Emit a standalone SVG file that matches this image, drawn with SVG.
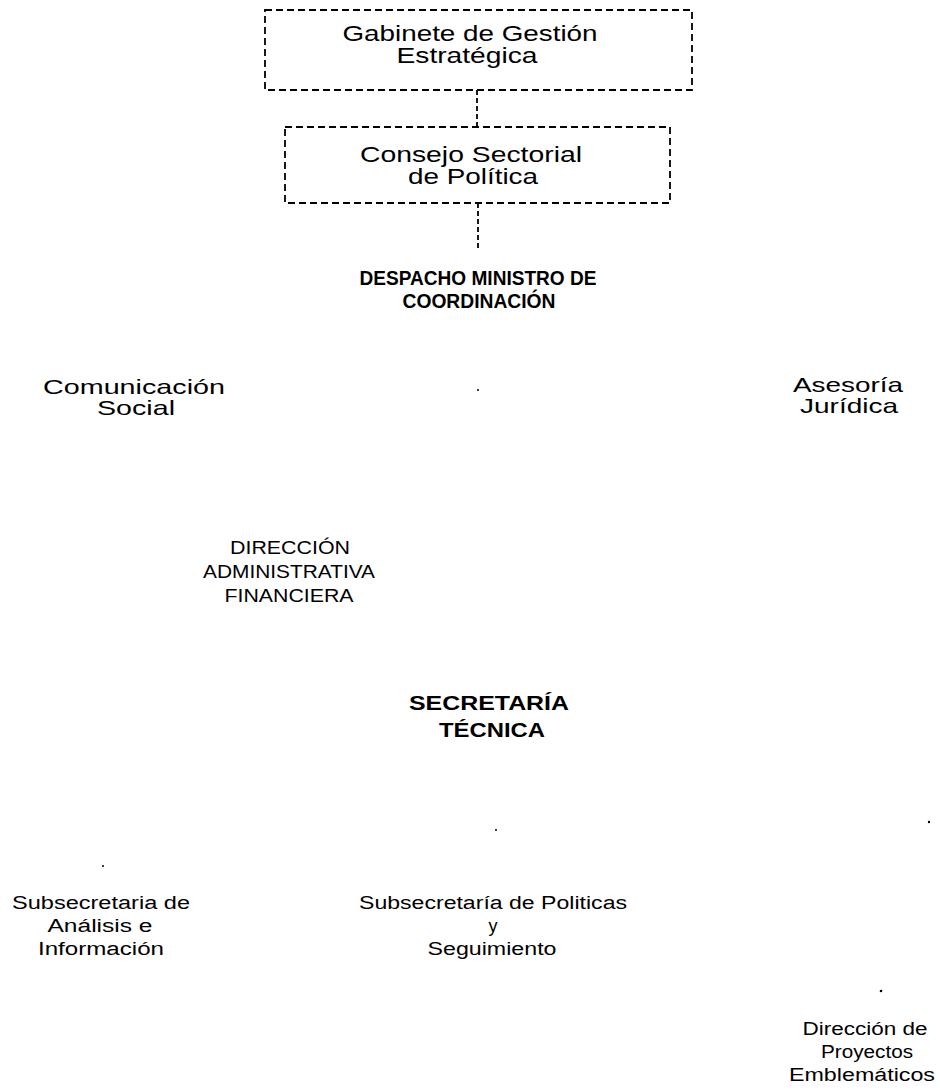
<svg xmlns="http://www.w3.org/2000/svg" width="940" height="1090" viewBox="0 0 940 1090">
<style>
.box{fill:none;stroke:#000;stroke-width:1.8;stroke-dasharray:7,4}
.con{fill:none;stroke:#000;stroke-width:1.8;stroke-dasharray:5,3}
text{font-family:"Liberation Sans",Arial,sans-serif;fill:#000;text-anchor:middle}
.big{font-size:22px}
.mid{font-size:21px}
.hb{font-size:20px;font-weight:bold}
.sm{font-size:18px}
.sm2{font-size:18px}
.dot{fill:#000}
</style>
<rect width="940" height="1090" fill="#fff"/>
<g id="connectors">
<line class="con" x1="477" y1="90" x2="477" y2="127"/>
<line class="con" x1="478" y1="203" x2="478" y2="248"/>
</g>
<g id="gabinete">
<rect class="box" x="265" y="10" width="427" height="80"/>
<text class="big" x="470" y="41" textLength="255" lengthAdjust="spacingAndGlyphs">Gabinete de Gestión</text>
<text class="big" x="467" y="63" textLength="141" lengthAdjust="spacingAndGlyphs">Estratégica</text>
</g>
<g id="consejo">
<rect class="box" x="285" y="127" width="385" height="76"/>
<text class="big" x="471" y="162" textLength="222" lengthAdjust="spacingAndGlyphs">Consejo Sectorial</text>
<text class="big" x="473" y="184" textLength="130" lengthAdjust="spacingAndGlyphs">de Política</text>
</g>
<g id="despacho">
<text class="hb" x="478" y="285" textLength="237" lengthAdjust="spacingAndGlyphs">DESPACHO MINISTRO DE</text>
<text class="hb" x="479" y="308" textLength="153" lengthAdjust="spacingAndGlyphs">COORDINACIÓN</text>
</g>
<g id="comunicacion">
<text class="mid" x="134" y="394" textLength="182" lengthAdjust="spacingAndGlyphs">Comunicación</text>
<text class="mid" x="136" y="415" textLength="78" lengthAdjust="spacingAndGlyphs">Social</text>
</g>
<g id="asesoria">
<text class="mid" x="848" y="392" textLength="110" lengthAdjust="spacingAndGlyphs">Asesoría</text>
<text class="mid" x="849" y="413" textLength="98" lengthAdjust="spacingAndGlyphs">Jurídica</text>
</g>
<g id="direccion-admin">
<text class="sm" x="290" y="554" textLength="120" lengthAdjust="spacingAndGlyphs">DIRECCIÓN</text>
<text class="sm" x="289" y="578" textLength="172" lengthAdjust="spacingAndGlyphs">ADMINISTRATIVA</text>
<text class="sm" x="289" y="602" textLength="129" lengthAdjust="spacingAndGlyphs">FINANCIERA</text>
</g>
<g id="secretaria">
<text class="hb" x="489" y="710" textLength="160" lengthAdjust="spacingAndGlyphs">SECRETARÍA</text>
<text class="hb" x="492" y="737" textLength="106" lengthAdjust="spacingAndGlyphs">TÉCNICA</text>
</g>
<g id="sub-analisis">
<text class="sm2" x="101" y="909" textLength="178" lengthAdjust="spacingAndGlyphs">Subsecretaria de</text>
<text class="sm2" x="100" y="932" textLength="105" lengthAdjust="spacingAndGlyphs">Análisis e</text>
<text class="sm2" x="101" y="955" textLength="126" lengthAdjust="spacingAndGlyphs">Información</text>
</g>
<g id="sub-politicas">
<text class="sm2" x="493" y="909" textLength="268" lengthAdjust="spacingAndGlyphs">Subsecretaría de Politicas</text>
<text class="sm2" x="493" y="932">y</text>
<text class="sm2" x="492" y="955" textLength="129" lengthAdjust="spacingAndGlyphs">Seguimiento</text>
</g>
<g id="proyectos">
<text class="sm2" x="865" y="1035" textLength="125" lengthAdjust="spacingAndGlyphs">Dirección de</text>
<text class="sm2" x="867" y="1058" textLength="92" lengthAdjust="spacingAndGlyphs">Proyectos</text>
<text class="sm2" x="862" y="1081" textLength="146" lengthAdjust="spacingAndGlyphs">Emblemáticos</text>
</g>
<g id="dots">
<circle class="dot" cx="478" cy="390" r="1"/>
<circle class="dot" cx="496" cy="830" r="1"/>
<circle class="dot" cx="929" cy="822" r="1.2"/>
<circle class="dot" cx="103" cy="866" r="1"/>
<circle class="dot" cx="881" cy="991" r="1.3"/>
</g>
</svg>
